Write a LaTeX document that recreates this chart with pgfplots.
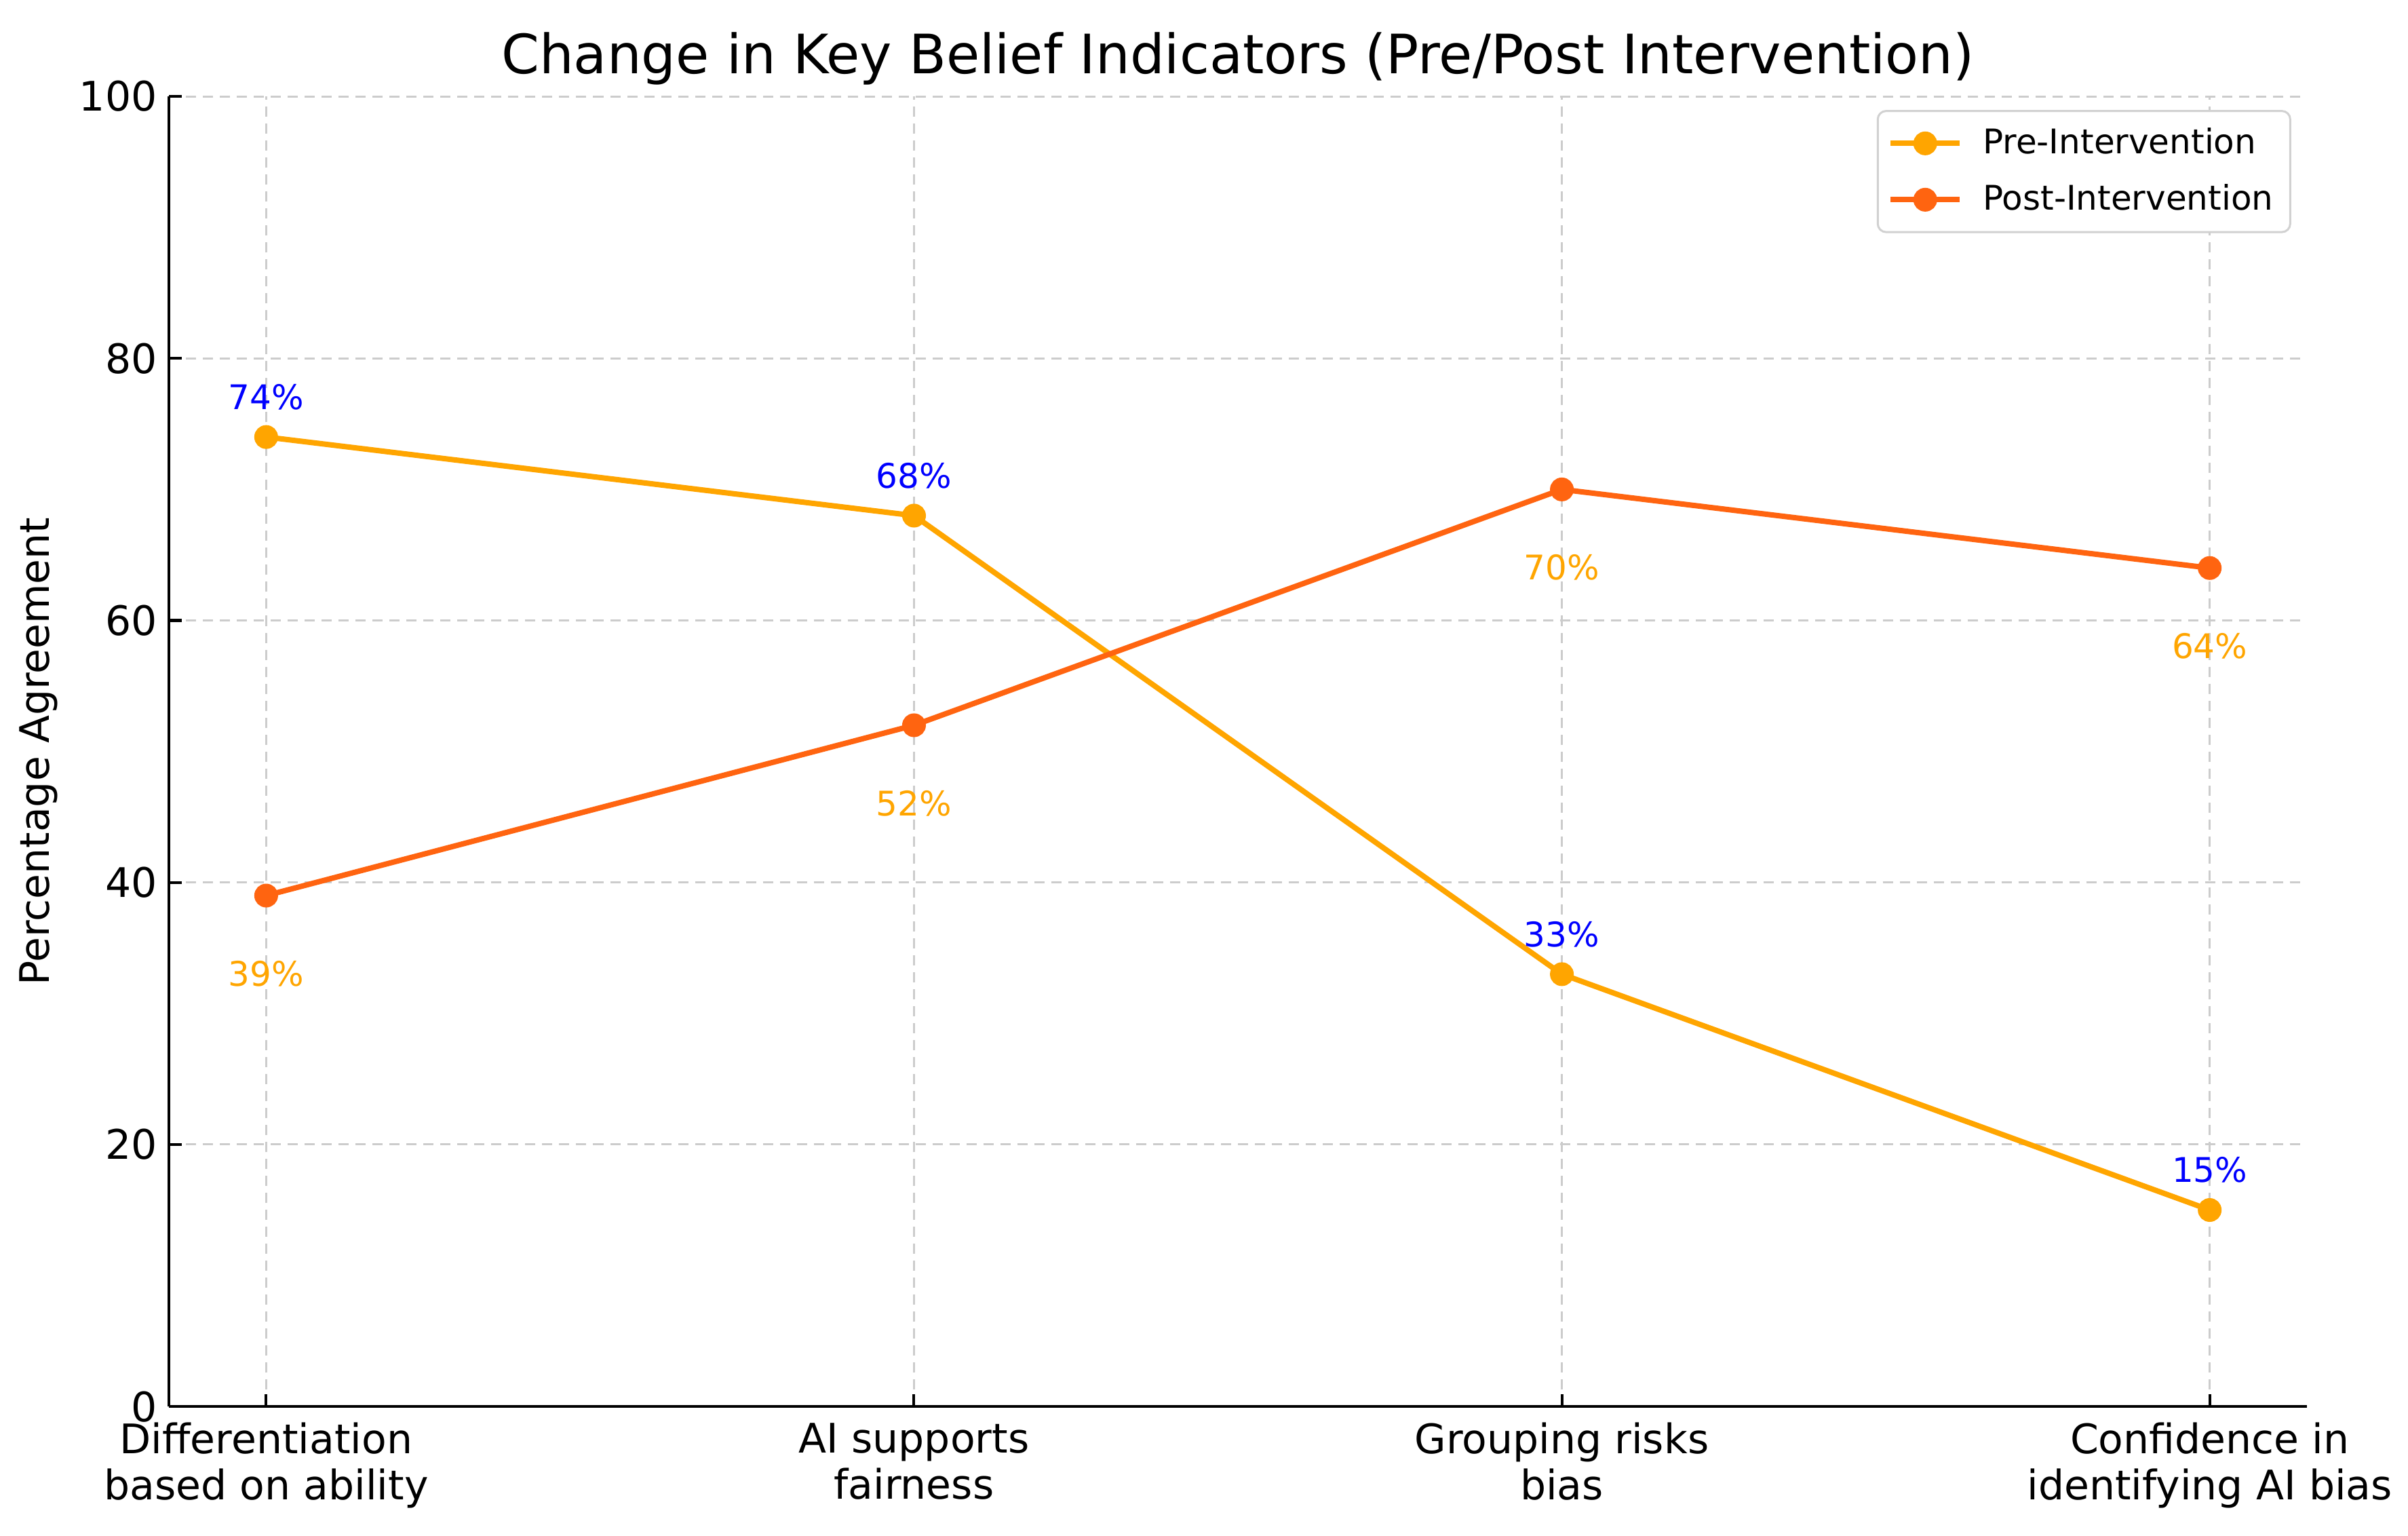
\documentclass[border=0pt]{standalone}
\usepackage{fontspec}
\setmainfont{DejaVu Sans}
\usepackage{pgfplots}
\pgfplotsset{compat=1.18}

\definecolor{preC}{HTML}{FFA500}
\definecolor{postC}{HTML}{FF6410}
\definecolor{gridC}{HTML}{CCCCCC}

\begin{document}
\begin{tikzpicture}
\begin{axis}[
    name=ax,
    at={(0,0)}, anchor=south west,
    scale only axis,
    width=630pt, height=386pt,
    xmin=-0.15, xmax=3.15,
    ymin=0, ymax=100,
    axis x line*=bottom, axis y line*=left,
    axis line style={line width=0.8pt, black},
    tick align=inside,
    major tick length=3.7pt,
    tick style={line width=0.8pt, black},
    xtick={0,1,2,3},
    xticklabels={{Differentiation\\based on ability},{AI supports\\fairness},{Grouping risks\\bias},{Confidence in\\identifying AI bias}},
    ytick={0,20,40,60,80,100},
    xticklabel style={align=center, font=\fontsize{12}{13.6}\selectfont, yshift=-1.3pt},
    yticklabel style={font=\fontsize{12}{14}\selectfont},
    /pgf/number format/assume math mode=true,
    grid=major,
    major grid style={gridC, line width=0.6pt, dash pattern=on 3pt off 2pt},
    title={Change in Key Belief Indicators (Pre/Post Intervention)},
    title style={font=\fontsize{16}{19}\selectfont, at={(axis description cs:0.5,1)}, anchor=center, yshift=5.2pt},
    ylabel={Percentage Agreement},
    ylabel style={font=\fontsize{12}{14}\selectfont, at={(axis description cs:0,0.5)}, anchor=center, yshift=38.5pt},
    legend style={at={(axis description cs:1,1)}, anchor=north east, xshift=-4.6pt, yshift=-4pt,
        draw=black!18, rounded corners=2.5pt, line width=0.6pt,
        font=\fontsize{10}{12}\selectfont, row sep=3.5pt, inner xsep=3pt, inner ysep=3pt,
        cells={anchor=west},
        /tikz/every odd column/.append style={column sep=4pt}},
    legend image code/.code={\draw[mark repeat=2,mark phase=2] plot coordinates {(0pt,0pt) (10.2pt,0pt) (20.4pt,0pt)};},
    every axis plot/.append style={line width=1.6pt},
]
\addplot[preC, mark=*, mark size=2.7pt,
    nodes near coords={\pgfmathprintnumber[assume math mode=true]{\pgfplotspointmeta}\%},
    every node near coord/.append style={blue, font=\fontsize{10}{12}\selectfont, anchor=center, yshift=11.8pt}]
    coordinates {(0,74) (1,68) (2,33) (3,15)};
\addlegendentry{Pre-Intervention}
\addplot[postC, mark=*, mark size=2.7pt,
    nodes near coords={\pgfmathprintnumber[assume math mode=true]{\pgfplotspointmeta}\%},
    every node near coord/.append style={preC, font=\fontsize{10}{12}\selectfont, anchor=center, yshift=-23pt}]
    coordinates {(0,39) (1,52) (2,70) (3,64)};
\addlegendentry{Post-Intervention}
\end{axis}
\pgfresetboundingbox
\path ([shift={(-49.8pt,-38pt)}]ax.south west) rectangle ([shift={(29.8pt,28.4pt)}]ax.north east);
\end{tikzpicture}
\end{document}
